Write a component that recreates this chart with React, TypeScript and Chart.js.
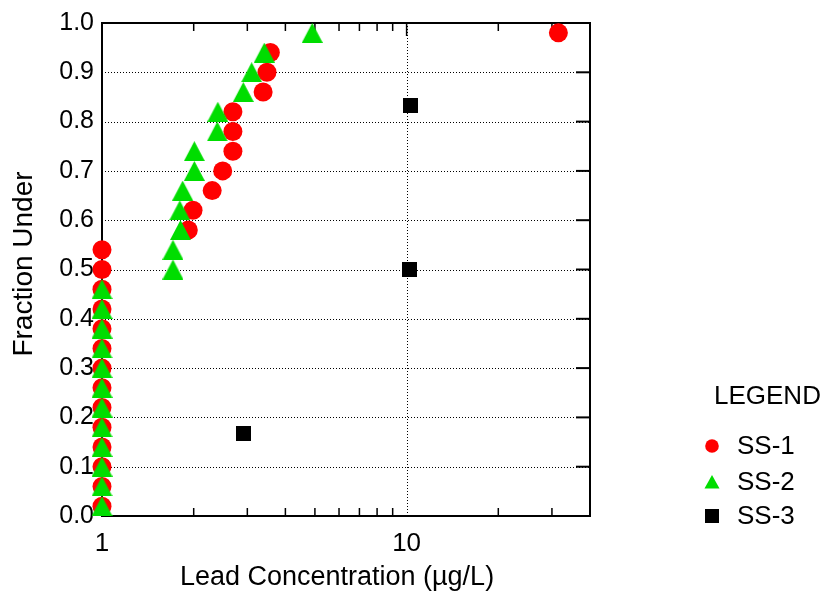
import React, { useEffect, useRef } from 'react';
import { Chart, registerables } from 'chart.js';

Chart.register(...registerables);

const FONT = '"Liberation Sans", Arial, Helvetica, sans-serif';

// ---- data ----
const seriesNames = ['SS-1', 'SS-2', 'SS-3'];
const seriesColors = ['#ff0000', '#00dd00', '#000000'];

const ss1X = [1, 1, 1, 1, 1, 1, 1, 1, 1, 1, 1, 1, 1, 1, 1.92, 1.99, 2.3, 2.49, 2.69, 2.69, 2.69, 3.38, 3.48, 3.57, 31.5];
const ss1Y = [0.02, 0.06, 0.1, 0.14, 0.18, 0.22, 0.26, 0.3, 0.34, 0.38, 0.42, 0.46, 0.5, 0.54, 0.58, 0.62, 0.66, 0.7, 0.74, 0.78, 0.82, 0.86, 0.9, 0.94, 0.98];

const ss2X = [1, 1, 1, 1, 1, 1, 1, 1, 1, 1, 1, 1, 1.71, 1.71, 1.81, 1.8, 1.84, 2.01, 2.01, 2.39, 2.4, 2.91, 3.1, 3.41, 4.9];
const ss2Y = [0.02, 0.06, 0.1, 0.14, 0.18, 0.22, 0.26, 0.3, 0.34, 0.38, 0.42, 0.46, 0.5, 0.54, 0.58, 0.62, 0.66, 0.7, 0.74, 0.78, 0.82, 0.86, 0.9, 0.94, 0.98];

const ss3X = [2.91, 10.2, 10.3];
const ss3Y = [0.1667, 0.5, 0.8333];

const xMin = 1;
const xMax = 40;
const xTickValues = [1, 10];
const xMinorTicks = [2, 3, 4, 5, 6, 7, 8, 9, 20, 30];
const xGridValues = [10];
const yTickValues = [0, 0.1, 0.2, 0.3, 0.4, 0.5, 0.6, 0.7, 0.8, 0.9, 1.0];

const xTitle = 'Lead Concentration (µg/L)';
const yTitle = 'Fraction Under';
const legendTitle = 'LEGEND';

function makeTriangle(w: number, h: number, color: string) {
  const c = document.createElement('canvas');
  c.width = w;
  c.height = h;
  const ctx = c.getContext('2d')!;
  ctx.fillStyle = color;
  ctx.beginPath();
  ctx.moveTo(w / 2, 0);
  ctx.lineTo(w, h);
  ctx.lineTo(0, h);
  ctx.closePath();
  ctx.fill();
  return c;
}

function makeSquare(s: number, color: string) {
  const c = document.createElement('canvas');
  c.width = s;
  c.height = s;
  const ctx = c.getContext('2d')!;
  ctx.fillStyle = color;
  ctx.fillRect(0, 0, s, s);
  return c;
}

function zip(xs: number[], ys: number[]) {
  return xs.map((x, i) => ({ x, y: ys[i] }));
}

const framePlugin = {
  id: 'frame',
  beforeDatasetsDraw(chart: any) {
    const { ctx, chartArea } = chart;
    const { left, right, top, bottom } = chartArea;
    const xs = chart.scales.x;
    const ys = chart.scales.y;
    ctx.save();
    // dotted grid lines
    ctx.strokeStyle = '#000';
    ctx.lineWidth = 1;
    ctx.setLineDash([1, 2]);
    yTickValues.forEach((v) => {
      if (v <= 0 || v >= 1) return;
      const y = Math.round(ys.getPixelForValue(v)) + 0.5;
      ctx.beginPath();
      ctx.moveTo(left, y);
      ctx.lineTo(right, y);
      ctx.stroke();
    });
    xGridValues.forEach((v) => {
      const x = Math.round(xs.getPixelForValue(v)) + 0.5;
      ctx.beginPath();
      ctx.moveTo(x, top);
      ctx.lineTo(x, bottom);
      ctx.stroke();
    });
    ctx.setLineDash([]);
    // minor ticks top/bottom
    ctx.lineWidth = 1.5;
    xMinorTicks.forEach((v) => {
      const x = xs.getPixelForValue(v);
      ctx.beginPath();
      ctx.moveTo(x, top);
      ctx.lineTo(x, top + 8);
      ctx.moveTo(x, bottom);
      ctx.lineTo(x, bottom - 8);
      ctx.stroke();
    });
    // major tick at 10 on top
    xGridValues.forEach((v) => {
      const x = xs.getPixelForValue(v);
      ctx.beginPath();
      ctx.moveTo(x, top);
      ctx.lineTo(x, top + 13);
      ctx.stroke();
    });
    // right ticks
    ctx.lineWidth = 2;
    yTickValues.forEach((v) => {
      if (v <= 0 || v >= 1) return;
      const y = ys.getPixelForValue(v);
      ctx.beginPath();
      ctx.moveTo(right, y);
      ctx.lineTo(right - 14, y);
      ctx.stroke();
    });
    // frame
    ctx.lineWidth = 2;
    ctx.strokeRect(left, top, right - left, bottom - top);
    ctx.restore();
  },
  afterDraw(chart: any) {
    const { ctx } = chart;
    ctx.save();
    ctx.fillStyle = '#000';
    ctx.textBaseline = 'middle';
    // axis titles
    ctx.textAlign = 'center';
    ctx.font = `27px ${FONT}`;
    ctx.fillText(xTitle, 337, 578);
    ctx.save();
    ctx.translate(24, 264);
    ctx.rotate(-Math.PI / 2);
    ctx.font = `28px ${FONT}`;
    ctx.fillText(yTitle, 0, 0);
    ctx.restore();
    // legend
    ctx.textAlign = 'left';
    ctx.font = `26px ${FONT}`;
    ctx.fillText(legendTitle, 714, 397);
    const rowY = [446, 482, 516];
    const mx = 712;
    seriesNames.forEach((name, i) => {
      const y = rowY[i];
      ctx.fillStyle = seriesColors[i];
      if (i === 0) {
        ctx.beginPath();
        ctx.arc(mx, y, 6.8, 0, Math.PI * 2);
        ctx.fill();
      } else if (i === 1) {
        ctx.beginPath();
        ctx.moveTo(mx, y - 7);
        ctx.lineTo(mx + 7.5, y + 6.5);
        ctx.lineTo(mx - 7.5, y + 6.5);
        ctx.closePath();
        ctx.fill();
      } else {
        ctx.fillRect(mx - 7, y - 7, 14, 14);
      }
      ctx.fillStyle = '#000';
      ctx.fillText(name, 737, y + 1);
    });
    ctx.restore();
  },
};

export default function App() {
  const ref = useRef<HTMLCanvasElement | null>(null);

  useEffect(() => {
    const canvas = ref.current;
    if (!canvas) return;
    const tri = makeTriangle(21, 20, seriesColors[1]);
    const sq = makeSquare(15, seriesColors[2]);
    const chart = new Chart(canvas, {
      type: 'scatter',
      data: {
        datasets: [
          {
            label: seriesNames[0],
            data: zip(ss1X, ss1Y),
            order: 3,
            pointStyle: 'circle',
            pointRadius: 9.5,
            pointBorderWidth: 0,
            backgroundColor: seriesColors[0],
            borderColor: seriesColors[0],
            clip: false,
          },
          {
            label: seriesNames[1],
            data: zip(ss2X, ss2Y),
            order: 2,
            pointStyle: tri,
            pointRadius: 10,
            pointBorderWidth: 0,
            backgroundColor: seriesColors[1],
            borderColor: seriesColors[1],
            clip: false,
          },
          {
            label: seriesNames[2],
            data: zip(ss3X, ss3Y),
            order: 1,
            pointStyle: sq,
            pointRadius: 8,
            pointBorderWidth: 0,
            backgroundColor: seriesColors[2],
            borderColor: seriesColors[2],
            clip: false,
          },
        ] as any,
      },
      options: {
        responsive: false,
        animation: false,
        events: [],
        layout: { padding: { left: 0, top: 22, right: 238, bottom: 0 } },
        plugins: {
          legend: { display: false },
          tooltip: { enabled: false },
        },
        scales: {
          x: {
            type: 'logarithmic',
            min: xMin,
            max: xMax,
            afterBuildTicks: (s: any) => {
              s.ticks = xTickValues.map((v) => ({ value: v }));
            },
            afterFit: (s: any) => {
              s.height = 80;
            },
            grid: { display: false, drawTicks: false },
            border: { display: false },
            ticks: {
              autoSkip: false,
              maxRotation: 0,
              padding: 12,
              color: '#000',
              font: { family: FONT, size: 26 },
              callback: (v: any) => String(v),
            },
            title: { display: false },
          },
          y: {
            type: 'linear',
            min: 0,
            max: 1,
            afterBuildTicks: (s: any) => {
              s.ticks = yTickValues.map((v) => ({ value: v }));
            },
            afterFit: (s: any) => {
              s.width = 102;
            },
            grid: { display: false, drawTicks: false },
            border: { display: false },
            ticks: {
              padding: 8,
              color: '#000',
              font: { family: FONT, size: 25 },
              callback: (v: any) => Number(v).toFixed(1),
            },
            title: { display: false },
          },
        },
      } as any,
      plugins: [framePlugin],
    });
    return () => chart.destroy();
  }, []);

  return (
    <div style={{ position: 'fixed', left: 0, top: 0, width: 828, height: 596, background: '#fff' }}>
      <canvas ref={ref} width={828} height={596} style={{ display: 'block', width: 828, height: 596 }} />
    </div>
  );
}
